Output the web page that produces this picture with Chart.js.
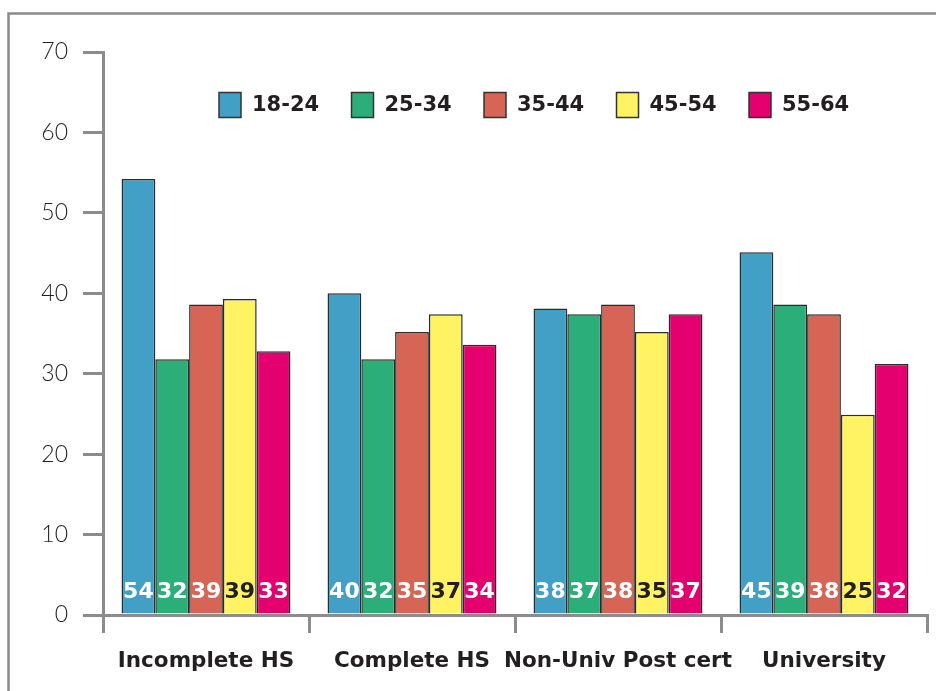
<!DOCTYPE html>
<html>
<head>
<meta charset="utf-8">
<script src="https://cdn.jsdelivr.net/npm/chart.js@4.4.1/dist/chart.umd.min.js"></script>
<style>
  html, body { margin: 0; padding: 0; background: #ffffff; }
  #wrap { width: 936px; height: 691px; position: relative; }
</style>
</head>
<body>
<div id="wrap"><canvas id="c" width="936" height="691"></canvas></div>
<script>
const categories = ['Incomplete HS', 'Complete HS', 'Non-Univ Post cert', 'University'];
const ageGroups = ['18-24', '25-34', '35-44', '45-54', '55-64'];

const values18_24 = [54.2, 40.0, 38.1, 45.1];
const values25_34 = [31.8, 31.8, 37.4, 38.6];
const values35_44 = [38.6, 35.2, 38.6, 37.4];
const values45_54 = [39.3, 37.4, 35.2, 24.9];
const values55_64 = [32.8, 33.6, 37.4, 31.2];

const labels18_24 = ['54', '40', '38', '45'];
const labels25_34 = ['32', '32', '37', '39'];
const labels35_44 = ['39', '35', '38', '38'];
const labels45_54 = ['39', '37', '35', '25'];
const labels55_64 = ['33', '34', '37', '32'];

const yTickValues = [0, 10, 20, 30, 40, 50, 60, 70];

const seriesValues = [values18_24, values25_34, values35_44, values45_54, values55_64];
const seriesLabels = [labels18_24, labels25_34, labels35_44, labels45_54, labels55_64];
const colors = ['#42a0c6', '#2cae7a', '#d66556', '#fff263', '#e5006f'];
const labelColors = ['#ffffff', '#ffffff', '#ffffff', '#231f20', '#ffffff'];

const AXIS = '#8c8c8c';
const BOLD = '"DejaVu Sans", "Open Sans", sans-serif';

const datasets = ageGroups.map((g, i) => ({
  label: g,
  data: seriesValues[i],
  valueLabels: seriesLabels[i],
  labelColor: labelColors[i],
  backgroundColor: colors[i],
  borderColor: '#2b2b2b',
  borderWidth: 1.5,
  borderSkipped: 'bottom',
  barPercentage: 1.0,
  categoryPercentage: 0.82
}));

const framePlugin = {
  id: 'frame',
  beforeDraw(chart) {
    const ctx = chart.ctx;
    ctx.save();
    ctx.strokeStyle = '#8a8a8a';
    ctx.lineWidth = 2.5;
    ctx.beginPath();
    ctx.moveTo(8.5, 691);
    ctx.lineTo(8.5, 13.5);
    ctx.lineTo(936, 13.5);
    ctx.stroke();
    ctx.restore();
  }
};

const barLabelPlugin = {
  id: 'barLabels',
  afterDatasetsDraw(chart) {
    const ctx = chart.ctx;
    const yScale = chart.scales.y;
    const baseY = yScale.getPixelForValue(0) - 23;
    ctx.save();
    ctx.font = 'bold 22px ' + BOLD;
    ctx.textAlign = 'center';
    ctx.textBaseline = 'middle';
    chart.data.datasets.forEach((ds, di) => {
      const meta = chart.getDatasetMeta(di);
      meta.data.forEach((bar, i) => {
        ctx.fillStyle = ds.labelColor;
        ctx.fillText(ds.valueLabels[i], bar.x, baseY);
      });
    });
    ctx.restore();
  }
};

const legendPlugin = {
  id: 'customLegend',
  afterDraw(chart) {
    const ctx = chart.ctx;
    ctx.save();
    ctx.font = 'bold 21px ' + BOLD;
    ctx.textBaseline = 'middle';
    ctx.textAlign = 'left';
    const startX = 219, cy = 105, step = 132.5;
    chart.data.datasets.forEach((ds, i) => {
      const x = startX + i * step;
      ctx.fillStyle = ds.backgroundColor;
      ctx.fillRect(x, cy - 12.5, 22, 25);
      ctx.strokeStyle = '#333333';
      ctx.lineWidth = 1.5;
      ctx.strokeRect(x, cy - 12.5, 22, 25);
      ctx.fillStyle = '#231f20';
      ctx.fillText(ds.label, x + 33, cy + 1);
    });
    ctx.restore();
  }
};

new Chart(document.getElementById('c'), {
  type: 'bar',
  data: { labels: categories, datasets },
  plugins: [framePlugin, barLabelPlugin, legendPlugin],
  options: {
    responsive: false,
    animation: false,
    layout: { padding: { left: 0, top: 52, right: 9, bottom: 0 } },
    plugins: {
      legend: { display: false },
      tooltip: { enabled: false },
      title: { display: false }
    },
    scales: {
      x: {
        offset: true,
        grid: {
          offset: true,
          drawOnChartArea: false,
          drawTicks: true,
          tickLength: 18,
          lineWidth: 3,
          color: (c) => (c.index === categories.length ? 'rgba(0,0,0,0)' : AXIS)
        },
        border: { display: true, color: AXIS, width: 3 },
        ticks: {
          padding: 16,
          color: '#231f20',
          font: { family: BOLD, size: 21.5, weight: 'bold' },
          maxRotation: 0,
          autoSkip: false
        },
        afterFit(scale) { scale.height = 76; }
      },
      y: {
        min: 0,
        max: 70,
        afterBuildTicks(scale) { scale.ticks = yTickValues.map(v => ({ value: v })); },
        grid: {
          drawOnChartArea: false,
          drawTicks: true,
          tickLength: 20,
          lineWidth: 3,
          color: AXIS
        },
        border: { display: true, color: AXIS, width: 3 },
        ticks: {
          padding: 15,
          color: '#231f20',
          font: { family: 'Lato, "Open Sans", sans-serif', size: 23, weight: '300' }
        },
        afterFit(scale) { scale.width = 103; }
      }
    }
  }
});
</script>
</body>
</html>
